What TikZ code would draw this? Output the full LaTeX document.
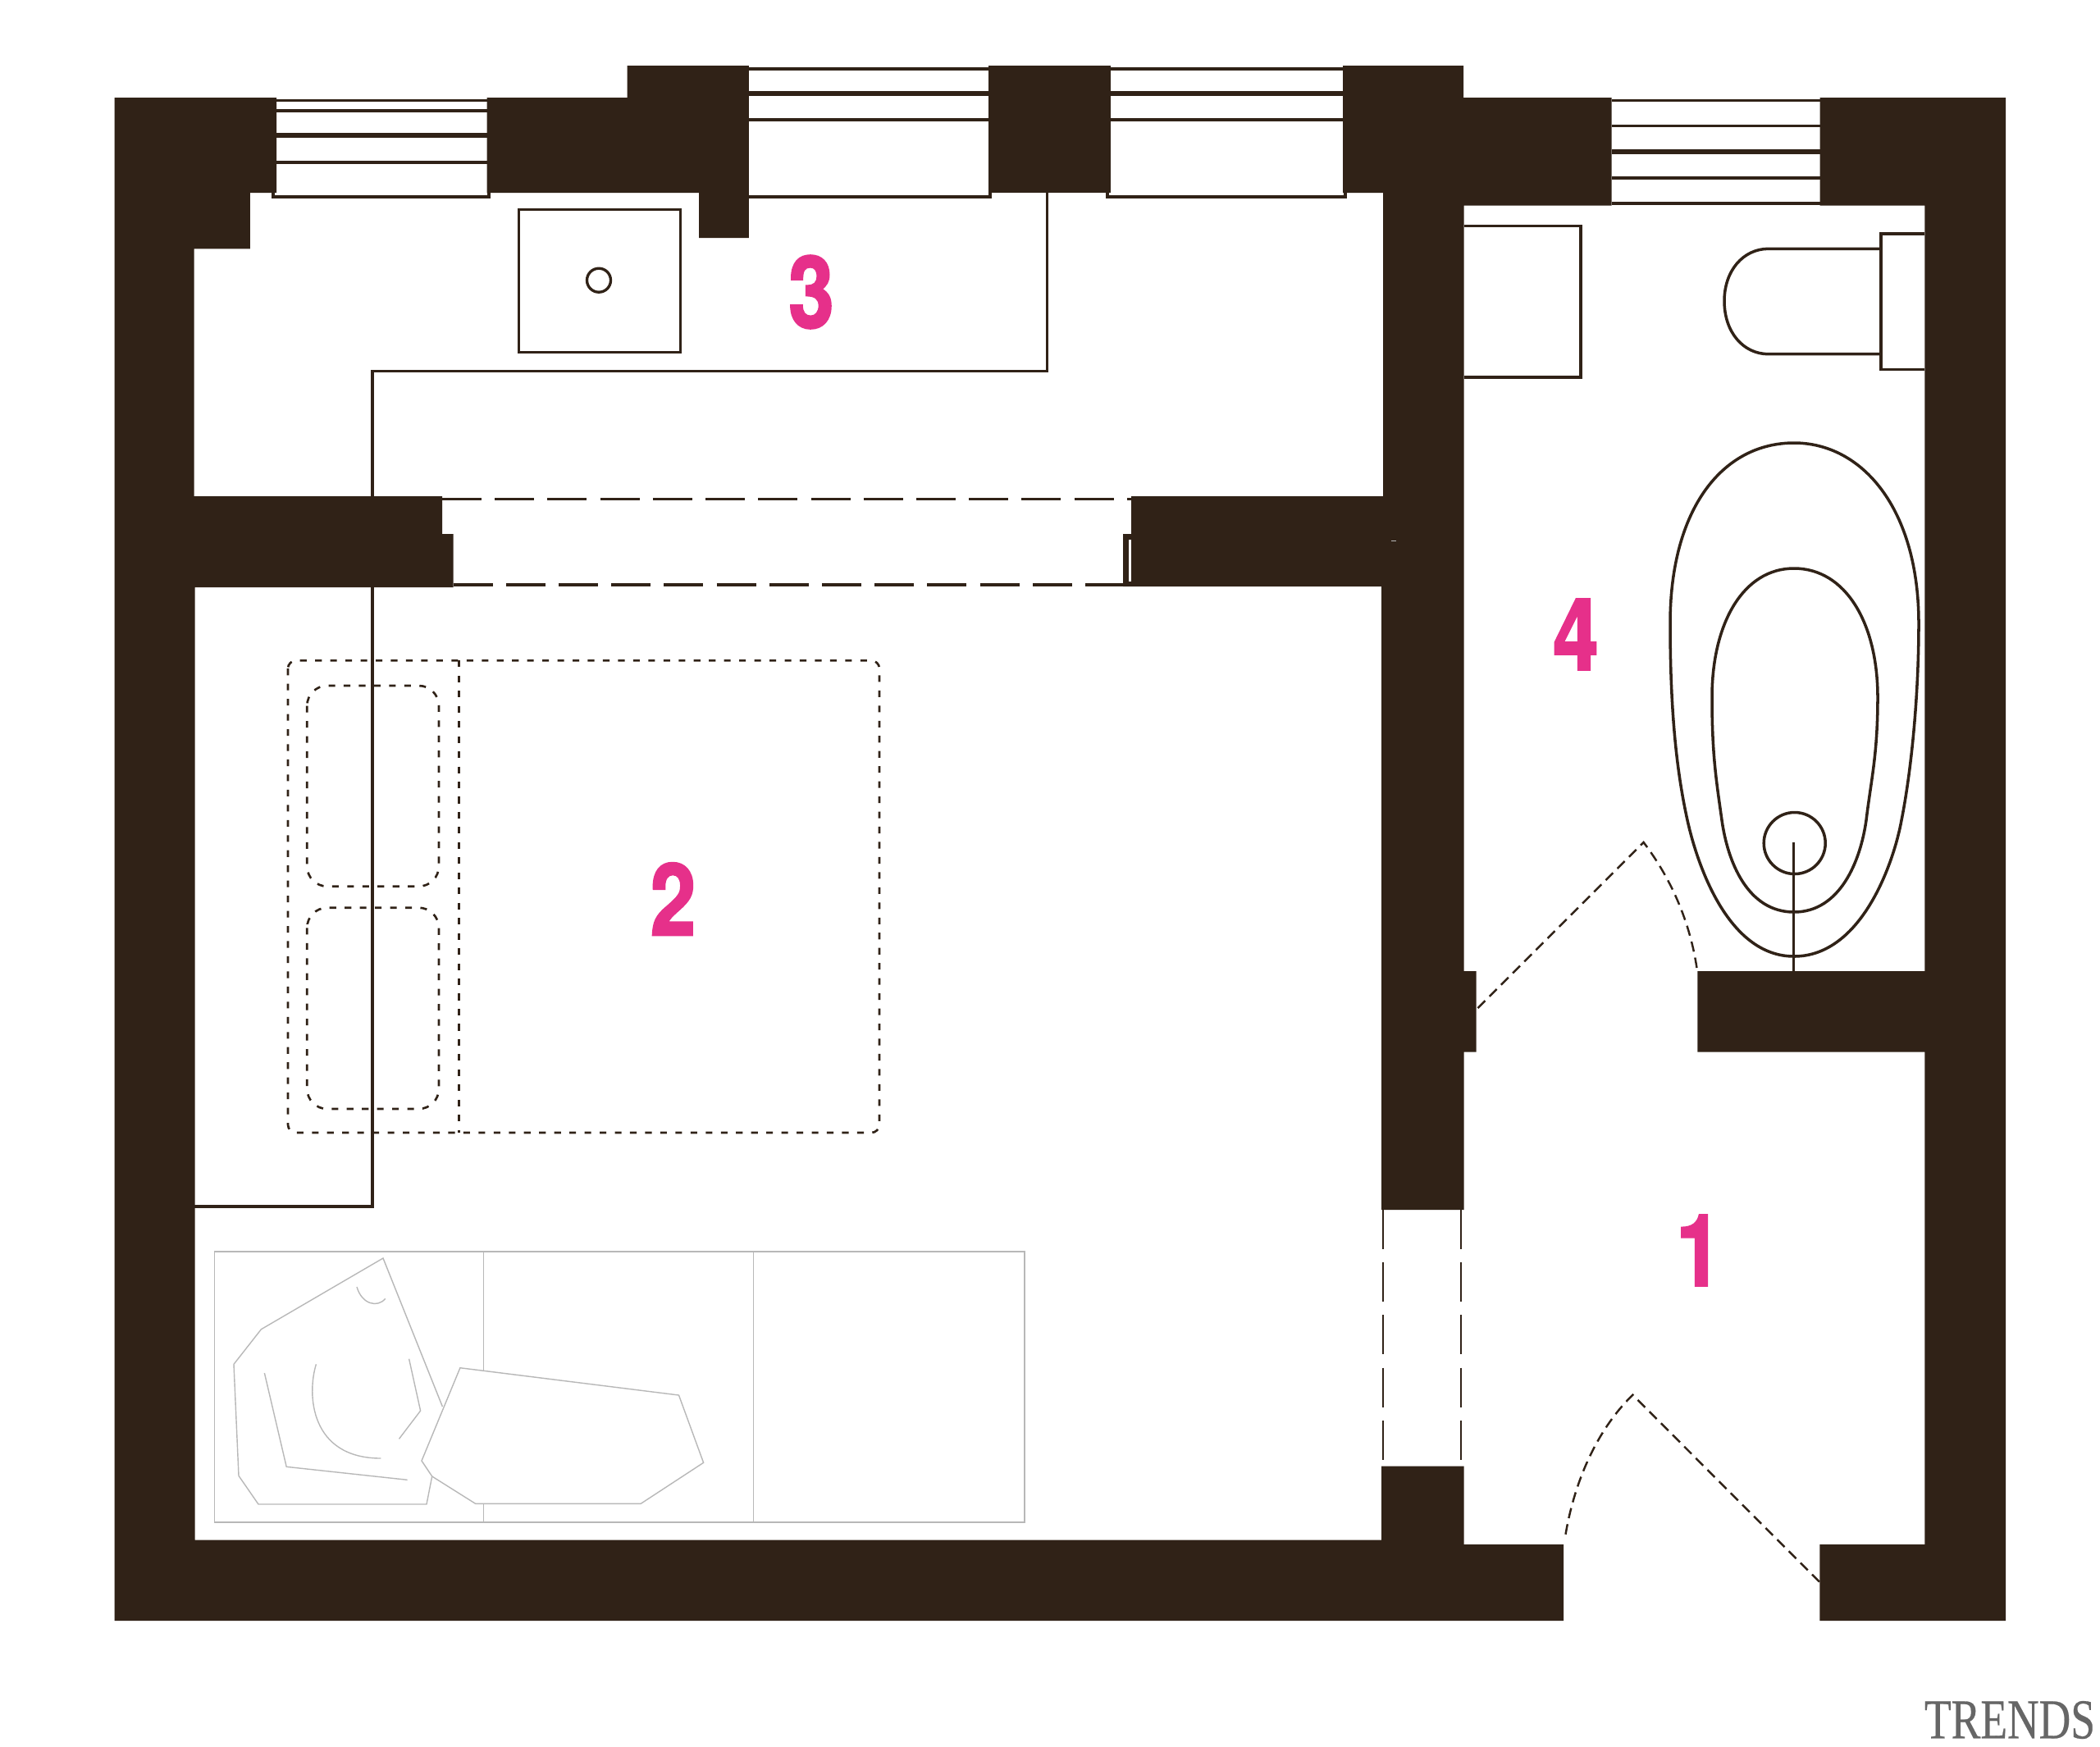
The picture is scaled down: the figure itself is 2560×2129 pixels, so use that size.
\documentclass[tikz,border=0pt]{standalone}
\usepackage{fontspec}
\usepackage{graphicx}
\setmainfont{Liberation Sans}
\newfontfamily\logofont[FakeBold=0.4]{Liberation Serif}
\newfontfamily\numfont[FakeBold=2.2]{TeX Gyre Heros Bold}
\definecolor{wallc}{HTML}{302217}
\definecolor{pinkc}{HTML}{E6308A}
\definecolor{logoc}{HTML}{666666}
\definecolor{furnc}{HTML}{B8B8B8}
\tikzset{
  wall/.style={fill=wallc,draw=none},
  thinl/.style={draw=wallc,line width=1pt},
  hair/.style={draw=wallc,line width=0.8pt},
  lw1/.style={draw=wallc,line width=0.95pt},
  lw2/.style={draw=wallc,line width=1.6pt},
  lw3/.style={draw=wallc,line width=1.15pt},
  beamdash/.style={draw=wallc,line width=1pt,dash pattern=on 13.66pt off 4.6pt},
  sidedash/.style={draw=wallc,line width=0.6pt,dash pattern=on 13.66pt off 4.6pt},
  doordash/.style={draw=wallc,line width=0.7pt,dash pattern=on 3.6pt off 2.1pt},
  beddash/.style={draw=wallc,line width=0.75pt,dash pattern=on 2.3pt off 2.95pt},
  furn/.style={draw=furnc,line width=0.55pt},
  furnthin/.style={draw=furnc,line width=0.4pt},
  roomnum/.style={text=pinkc,inner sep=0pt,font=\numfont\fontsize{34.5}{40}\selectfont},
}
\begin{document}
\begin{tikzpicture}[x=0.01cm,y=-0.01cm]
\useasboundingbox (0,0) rectangle (2560,2129);
% windows
\foreach \a/\b in {337/593.6}{
  \draw[lw1] (\a,122.3) -- (\b,122.3);
  \draw[lw1] (\a,135) -- (\b,135);
  \draw[lw2] (\a,165.3) -- (\b,165.3);
  \draw[lw3] (\a,198.3) -- (\b,198.3);
}
\foreach \a/\b in {912.8/1204.8,1354/1637}{
  \draw[lw1] (\a,84) -- (\b,84);
  \draw[lw2] (\a,114.3) -- (\b,114.3);
  \draw[lw3] (\a,146) -- (\b,146);
}
\draw[lw1] (1964.6,122.3) -- (2218.5,122.3);
\draw[lw1] (1964.6,153.3) -- (2218.5,153.3);
\draw[lw2] (1964.6,185.3) -- (2218.5,185.3);
\draw[lw3] (1964.6,216.7) -- (2218.5,216.7);
\draw[lw1] (1964.6,248) -- (2218.5,248);
\draw[lw1] (333,233) -- (333,240) -- (596,240) -- (596,233);
\draw[lw1] (910,240) -- (1207,240) -- (1207,233);
\draw[lw1] (1350,233) -- (1350,240) -- (1640,240) -- (1640,233);
% partition line
\draw[lw1] (1276.5,235) -- (1276.5,452.7) -- (454,452.7) -- (454,1471) -- (237,1471);
% beam and doorway dashes
\draw[beamdash] (539,608.7) -- (1379,608.7);
\draw[beamdash] (552.5,713) -- (1369,713);
\draw[sidedash] (1686.2,1475) -- (1686.2,1787.5);
\draw[sidedash] (1781,1475) -- (1781,1787.5);
% walls
\fill[wall] (139.5,119) -- (337,119) -- (337,235) -- (304.8,235) -- (304.8,303.3) -- (236.5,303.3) -- (236.5,605) -- (539,605) -- (539,651) -- (552.5,651) -- (552.5,716) -- (237.5,716) -- (237.5,1877.5) -- (1684.2,1877.5) -- (1684.2,1787.5) -- (1784.7,1787.5) -- (1784.7,1883) -- (1906,1883) -- (1906,1976) -- (139.5,1976) -- cycle;
\fill[wall] (593.6,119) -- (764.6,119) -- (764.6,80) -- (912.8,80) -- (912.8,290) -- (852,290) -- (852,235) -- (593.6,235) -- cycle;
\fill[wall] (1204.8,80) rectangle (1354,235);
\fill[wall] (1637,80) -- (1784,80) -- (1784,119) -- (1964.6,119) -- (1964.6,250.7) -- (1784.7,250.7) -- (1784.7,1184) -- (1799.5,1184) -- (1799.5,1282.7) -- (1784.7,1282.7) -- (1784.7,1475) -- (1684.2,1475) -- (1684.2,715) -- (1369,715) -- (1369,651) -- (1379,651) -- (1379,605) -- (1686,605) -- (1686,235) -- (1637,235) -- cycle;
\fill[wall] (2218.5,119) -- (2445,119) -- (2445,1976) -- (2218.4,1976) -- (2218.4,1883) -- (2346.4,1883) -- (2346.4,1282.7) -- (2069.4,1282.7) -- (2069.4,1184) -- (2346.4,1184) -- (2346.4,250.7) -- (2218.5,250.7) -- cycle;
\fill[white] (1375.5,657.5) rectangle (1379,709);
\fill[furnc] (1696,658.5) rectangle (1702,660);
% sink
\draw[draw=wallc,line width=0.85pt] (632,255) rectangle (829,429);
\draw[lw1] (730,341.7) circle (14.5);
% cabinet and wc
\draw[thinl] (1784.7,275.7) -- (1927,275.7) -- (1927,460) -- (1784.7,460);
\draw[thinl] (2346.4,285) -- (2293,285) -- (2293,450.7) -- (2346.4,450.7);
\draw[thinl] (2293,303.3) -- (2156,303.3) .. controls (2125,303.3) and (2102,330) .. (2102,367) .. controls (2102,405) and (2125,431.7) .. (2156,431.7) -- (2293,431.7);
% bath
\draw[thinl] (2187,540) .. controls (2100,540) and (2036,620) .. (2036,760) .. controls (2036,880) and (2046,950) .. (2057,1000) .. controls (2068,1050) and (2105,1166) .. (2187,1166) .. controls (2270,1166) and (2309,1050) .. (2318,1000) .. controls (2328,950) and (2339,860) .. (2339,760) .. controls (2339,620) and (2270,540) .. (2187,540) -- cycle;
\draw[thinl] (2187,693) .. controls (2125,693) and (2087,760) .. (2087,850) .. controls (2087,920) and (2092,950) .. (2099,1000) .. controls (2106,1050) and (2130,1112) .. (2187,1112) .. controls (2243,1112) and (2268,1050) .. (2275,1000) .. controls (2281,950) and (2289,920) .. (2289,850) .. controls (2289,760) and (2250,693) .. (2187,693) -- cycle;
\draw[thinl] (2187.7,1028) circle (37.5);
\draw[hair] (2186.7,1027) -- (2186.7,1184);
% doors
\draw[doordash] (1801.5,1229) -- (2003.6,1027) .. controls (2040,1075) and (2062,1130) .. (2069.4,1186.7);
\draw[doordash] (2217.9,1928.6) -- (1990.3,1700.7) .. controls (1945,1745) and (1918,1810) .. (1907.7,1875.7);
% bed
\draw[beddash,rounded corners=2.8pt] (351,805.3) rectangle (1072,1381);
\draw[beddash] (559.7,805.3) -- (559.7,1381);
\draw[beddash,rounded corners=7pt] (374.3,836) rectangle (535,1080.7);
\draw[beddash,rounded corners=7pt] (374.3,1106.7) rectangle (535,1352);
% sofa and chair
\draw[furn] (261.5,1526.3) rectangle (1248.7,1856);
\draw[furnthin] (918.5,1526.3) -- (918.5,1856);
\draw[furnthin] (589.7,1526.3) -- (589.7,1856);
\draw[furnthin] (539.4,1715) -- (467,1534) -- (318.4,1620.7) -- (285,1663.3) -- (291,1799.3) -- (315,1834) -- (520,1834) -- (526.7,1800);
\draw[furnthin] (322.4,1674) -- (349.2,1788.3) -- (496.6,1804.3);
\draw[furnthin] (498.6,1656.7) -- (512.6,1720) -- (486.5,1754.3);
\draw[furnthin] (385.4,1663.3) .. controls (374,1700) and (378,1778) .. (464.4,1778);
\draw[furnthin] (435,1569) .. controls (441,1590) and (460,1595) .. (469.8,1583.3);
\draw[furnthin,fill=white] (560.9,1667.7) -- (827.5,1701) -- (857.6,1783.3) -- (781.2,1833.3) -- (579.6,1833.3) -- (526.7,1800) -- (514,1781) -- cycle;
% labels
\node[roomnum] (r1) at (2071,1524.5) {\scalebox{.82}[1]{1}};
\node[roomnum] (r2) at (820.5,1096) {\scalebox{.82}[1]{2}};
\node[roomnum] (r3) at (989,356) {\scalebox{.82}[1]{3}};
\node[roomnum] (r4) at (1921,773.5) {\scalebox{.82}[1]{4}};
\node[text=logoc,inner sep=0pt,anchor=center] (logo) at (2450,2097) {\logofont\fontsize{19.5}{22}\selectfont\scalebox{.78}[1]{TRENDS}};
\end{tikzpicture}
\end{document}
